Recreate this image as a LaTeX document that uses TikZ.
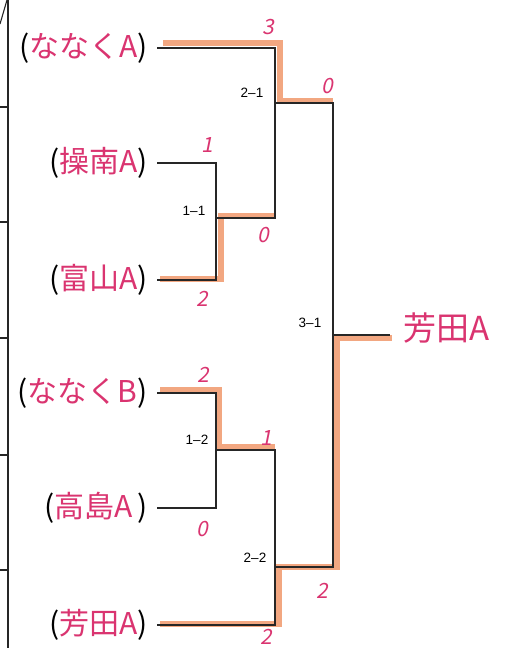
\documentclass[tikz,border=0pt]{standalone}
\usepackage{fontspec}
\setsansfont{Liberation Sans}
\newfontfamily\jpfont{Noto Sans CJK JP}
\newfontfamily\handfont[FakeSlant=0.2]{Noto Sans CJK JP}
\usetikzlibrary{calc}
\definecolor{namepink}{RGB}{218,52,112}
\definecolor{hilite}{RGB}{238,138,88}

\newcommand{\tname}[1]{(\textcolor{namepink}{#1})}

\tikzset{
  team/.style={anchor=east, inner xsep=9pt, inner ysep=0pt,
    font=\jpfont\fontsize{30}{30}\selectfont},
  score/.style={text=namepink, inner sep=0pt,
    font=\handfont\fontsize{21}{21}\selectfont},
  matchlabel/.style={inner sep=0pt, font=\sffamily\fontsize{13.5}{13.5}\selectfont},
  bracket/.style={line width=1.1pt, black!85},
  winpath/.style={line width=6.5pt, hilite, opacity=0.75}
}

\begin{document}
\begin{tikzpicture}[x=1pt,y=-1pt]
\fill[white] (0,0) rectangle (512,648);
\useasboundingbox (0,0) rectangle (512,648);

\draw[bracket] (8,0) -- (8,648);
\draw[bracket] (0,24) -- (7,0);
\foreach \ty in {107,222,338,455,570}
  \draw[bracket] (0,\ty) -- (8,\ty);

\node[team] (t1) at (157,48) {\tname{ななくA}};
\node[team] (t2) at (157,163) {\tname{操南A}};
\node[team] (t3) at (157,280) {\tname{富山A}};
\node[team] (t4) at (157,393) {\tname{ななくB}};
\node[team] (t5) at (157,508) {(\textcolor{namepink}{高島A}\,)};
\node[team] (t6) at (157,625) {\tname{芳田A}};

\coordinate (m11) at (216,218);
\coordinate (m12) at (216,450);
\coordinate (m21) at (275,103);
\coordinate (m22) at (275,567);
\coordinate (fin) at (333,335);

\node[anchor=west, inner xsep=13pt, inner ysep=0pt, text=namepink,
  font=\jpfont\fontsize{33}{33}\selectfont] (win) at (390,328) {芳田A};

\draw[winpath] ($(t1.east)+(6,-5)$) -| ($(m21)+(5,-2)$) -- ($(m21 -| fin)+(0,-2)$);
\draw[winpath] ($(t3.east)+(3,-1)$) -| ($(m11)+(5,-2)$) -- ($(m11 -| m21)+(0,-2)$);
\draw[winpath] ($(t4.east)+(3,-3)$) -| ($(m12)+(3,-3)$) -- ($(m12 -| m22)+(0,-3)$);
\draw[winpath] ($(t6.east)+(3,-1)$) -| ($(m22)+(4,0)$) -- ($(m22 -| fin)+(4,0)$)
  |- ($(fin -| win.west)+(2,3)$);

\draw[bracket] (t2.east) -| (m11) |- (t3.east);
\draw[bracket] (t4.east) -| (m12) |- (t5.east);
\draw[bracket] (t1.east) -| (m21) |- (m11);
\draw[bracket] (t6.east) -| (m22) |- (m12);
\draw[bracket] (m21) -| (fin) |- (m22);
\draw[bracket] (fin) -- (fin -| win.west);

\node[matchlabel] (l11) at (194,211) {1--1};
\node[matchlabel] (l12) at (197,440) {1--2};
\node[matchlabel] (l21) at (252,93) {2--1};
\node[matchlabel] (l22) at (255,558) {2--2};
\node[matchlabel] (l31) at (310,323) {3--1};

\node[score] (s1) at (268,27) {3};
\node[score] (s2) at (327,86) {0};
\node[score] (s3) at (207,145) {1};
\node[score] (s4) at (263,235) {0};
\node[score] (s5) at (202,299) {2};
\node[score] (s6) at (203,375) {2};
\node[score] (s7) at (266,438) {1};
\node[score] (s8) at (202,529) {0};
\node[score] (s9) at (322,591) {2};
\node[score] (s10) at (266,637) {2};
\end{tikzpicture}
\end{document}
